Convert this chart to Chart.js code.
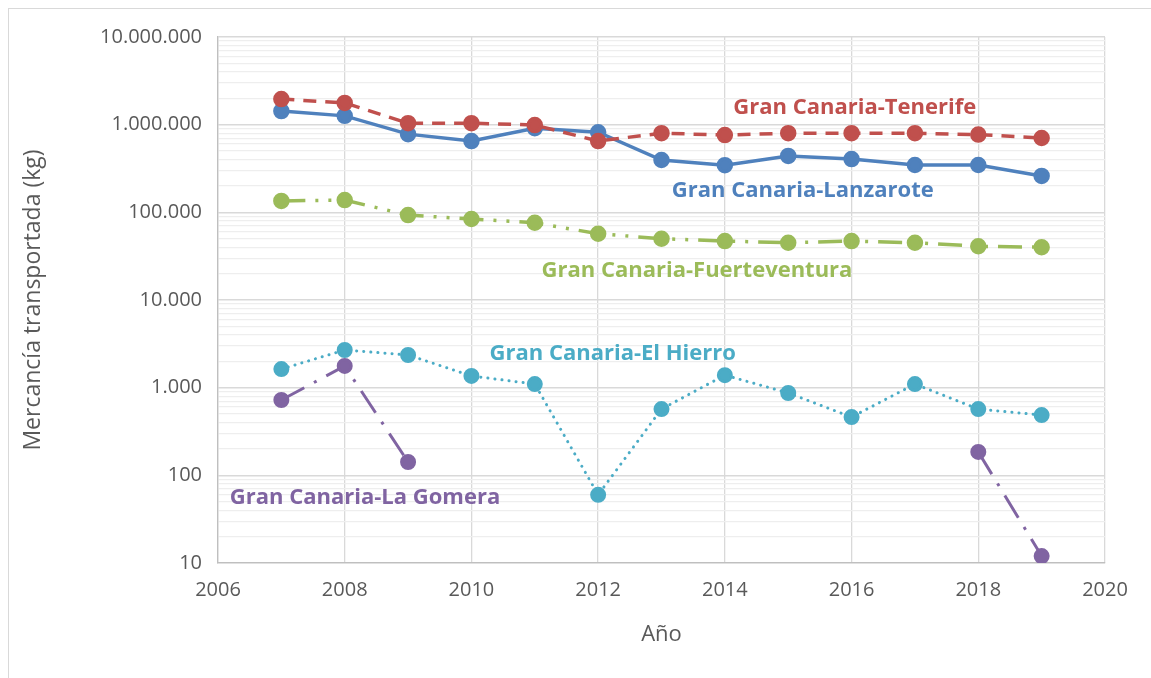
<!DOCTYPE html>
<html>
<head>
<meta charset="utf-8">
<script src="https://cdn.jsdelivr.net/npm/chart.js@4.4.1/dist/chart.umd.min.js"></script>
<style>
  html, body { margin: 0; padding: 0; background: #fff; overflow: hidden; }
  #frame { position: absolute; left: 8px; top: 8px; width: 1200px; height: 700px; border: 1px solid #d9d9d9; }
  #wrap { position: absolute; left: 0; top: 0; width: 1151px; height: 678px; }
</style>
</head>
<body>
<div id="frame"></div>
<div id="wrap"><canvas id="c" width="1151" height="678"></canvas></div>
<script>
const years = [2007, 2008, 2009, 2010, 2011, 2012, 2013, 2014, 2015, 2016, 2017, 2018, 2019];

const tenerife = [1960000, 1770000, 1040000, 1040000, 990000, 650000, 800000, 760000, 800000, 800000, 800000, 770000, 705000];
const lanzarote = [1430000, 1260000, 780000, 650000, 910000, 820000, 395000, 345000, 440000, 405000, 347000, 347000, 260000];
const fuerteventura = [135000, 138000, 93000, 84000, 76000, 57000, 50000, 47000, 45000, 47000, 45000, 41000, 40000];
const elHierro = [1630, 2690, 2360, 1360, 1100, 60, 570, 1390, 870, 462, 1100, 570, 487];
const laGomera = [723, 1770, 142, null, null, null, null, null, null, null, null, 185, 12];

const yTicks = [10, 100, 1000, 10000, 100000, 1000000, 10000000];
const xTicks = [2006, 2008, 2010, 2012, 2014, 2016, 2018, 2020];

const pts = (arr) => years.map((y, i) => ({ x: y, y: arr[i] }));

// text labels placed next to each series, in data coordinates
const seriesLabels = [
  { text: 'Gran Canaria-Tenerife', x: 2016.05, y: 1550000, color: '#c0504d' },
  { text: 'Gran Canaria-Lanzarote', x: 2015.23, y: 175000, color: '#4f81bd' },
  { text: 'Gran Canaria-Fuerteventura', x: 2013.56, y: 21400, color: '#9bbb59' },
  { text: 'Gran Canaria-El Hierro', x: 2012.23, y: 2420, color: '#4bacc6' },
  { text: 'Gran Canaria-La Gomera', x: 2008.32, y: 55, color: '#8064a2' }
];

const labelPlugin = {
  id: 'seriesLabels',
  afterDatasetsDraw(chart) {
    const ctx = chart.ctx;
    const xs = chart.scales.x, ys = chart.scales.y;
    ctx.save();
    ctx.font = 'bold 22px "Open Sans"';
    ctx.textAlign = 'center';
    ctx.textBaseline = 'middle';
    seriesLabels.forEach(l => {
      ctx.fillStyle = l.color;
      ctx.fillText(l.text, xs.getPixelForValue(l.x), ys.getPixelForValue(l.y));
    });
    ctx.restore();
  }
};

const isMajor = (v) => yTicks.includes(v);

const config = {
  type: 'line',
  data: {
    datasets: [
      {
        label: 'Gran Canaria-Tenerife',
        data: pts(tenerife),
        borderColor: '#c0504d', backgroundColor: '#c0504d',
        borderWidth: 3.5, borderDash: [13, 9],
        pointRadius: 6.5, pointStyle: 'circle'
      },
      {
        label: 'Gran Canaria-Lanzarote',
        data: pts(lanzarote),
        borderColor: '#4f81bd', backgroundColor: '#4f81bd',
        borderWidth: 3.5,
        pointRadius: 6.5
      },
      {
        label: 'Gran Canaria-Fuerteventura',
        data: pts(fuerteventura),
        borderColor: '#9bbb59', backgroundColor: '#9bbb59',
        borderWidth: 3.5, borderDash: [24, 10, 3, 10, 3, 10],
        pointRadius: 6.5
      },
      {
        label: 'Gran Canaria-El Hierro',
        data: pts(elHierro),
        borderColor: '#4bacc6', backgroundColor: '#4bacc6',
        borderWidth: 3, borderDash: [0.1, 7], borderCapStyle: 'round',
        pointRadius: 6.5
      },
      {
        label: 'Gran Canaria-La Gomera',
        data: pts(laGomera),
        borderColor: '#8064a2', backgroundColor: '#8064a2',
        borderWidth: 3, borderDash: [26, 11, 3, 11],
        pointRadius: 6.5, spanGaps: false
      }
    ]
  },
  options: {
    responsive: false,
    animation: false,
    layout: { padding: { left: 20, top: 37, right: 46, bottom: 30 } },
    plugins: {
      legend: { display: false },
      tooltip: { enabled: false }
    },
    scales: {
      x: {
        type: 'linear',
        min: 2006, max: 2020,
        afterBuildTicks: (s) => { s.ticks = xTicks.map(v => ({ value: v })); },
        afterFit: (s) => { s.height = 85; },
        grid: { color: '#d9d9d9', lineWidth: 1.3, drawTicks: false },
        border: { color: '#bfbfbf', width: 1.3 },
        ticks: {
          padding: 15, color: '#595959',
          font: { family: '"Open Sans"', size: 20 },
          callback: (v) => String(v)
        },
        title: {
          display: true, text: 'Año', color: '#595959',
          font: { family: '"Open Sans"', size: 22 },
          padding: 0
        }
      },
      y: {
        type: 'logarithmic',
        min: 10, max: 10000000,
        afterBuildTicks: (s) => {
          const t = [];
          for (let d = 10; d < 10000000; d *= 10) {
            for (let k = 1; k < 10; k++) t.push({ value: d * k });
          }
          t.push({ value: 10000000 });
          s.ticks = t;
        },
        afterFit: (s) => { s.width = 198; },
        grid: {
          drawTicks: false,
          color: (c) => isMajor(c.tick.value) ? '#d9d9d9' : '#eeeeee',
          lineWidth: (c) => isMajor(c.tick.value) ? 1.5 : 1.3
        },
        border: { color: '#bfbfbf', width: 1.3 },
        ticks: {
          autoSkip: false, padding: 16, color: '#595959',
          font: { family: '"Open Sans"', size: 20 },
          callback: (v) => isMajor(v) ? v.toLocaleString('de-DE') : ''
        },
        title: {
          display: true, text: 'Mercancía transportada (kg)', color: '#595959',
          font: { family: '"Open Sans"', size: 23 },
          padding: 0
        }
      }
    }
  },
  plugins: [labelPlugin]
};

new Chart(document.getElementById('c'), config);
</script>
</body>
</html>
